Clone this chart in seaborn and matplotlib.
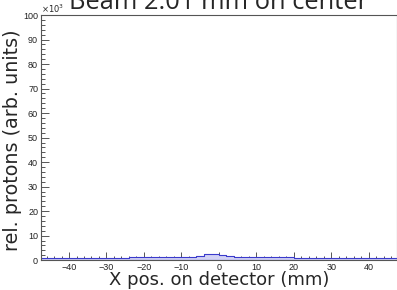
import numpy as np
import matplotlib
matplotlib.use('Agg')
import matplotlib.pyplot as plt
import seaborn as sns
from matplotlib.ticker import MultipleLocator

# 2 mm bins across the detector; counts (arb. units)
bin_edges = list(range(-48, 49, 2))
bin_centers = list(range(-47, 48, 2))
counts = [900, 900, 950, 950, 950, 1000, 1000, 1000, 1000, 1050,
          1050, 1050, 1100, 1100, 1100, 1150, 1150, 1200, 1200, 1300,
          1300, 1700, 2400, 2400, 1900, 1700, 1300, 1250, 1200, 1150,
          1150, 1100, 1100, 1100, 1050, 1050, 1000, 1000, 1000, 1000,
          950, 950, 950, 900, 900, 900, 900, 900]

sns.set_style('white')
plt.rcParams['font.family'] = ['DejaVu Sans']

fig = plt.figure(figsize=(3.97, 2.90), dpi=100)
ax = fig.add_axes([0.103, 0.103, 0.897, 0.845])

sns.histplot(x=bin_centers, weights=counts, bins=bin_edges, element='step',
             fill=True, alpha=1.0, facecolor='#d2d2f5',
             edgecolor='#3a3acc', linewidth=0.8, ax=ax)

ax.set_xlim(-47.5, 47.5)
ax.set_ylim(0, 100000)
ax.xaxis.set_major_locator(MultipleLocator(10))
ax.xaxis.set_minor_locator(MultipleLocator(2))
ax.yaxis.set_minor_locator(MultipleLocator(2000))
ax.set_yticks(range(0, 100001, 10000))
ax.set_yticklabels([str(v) for v in range(0, 101, 10)])
ax.tick_params(which='both', direction='in', labelsize=6.5, pad=2,
               bottom=True, left=True, top=False, right=False,
               labelfontfamily='Liberation Sans', color='#555555',
               labelcolor='#222222', width=0.7)
ax.tick_params(which='major', length=6)
ax.tick_params(which='minor', length=3)
ax.text(0.0, 1.0, r'$\times10^3$', transform=ax.transAxes, fontsize=6,
        family='Liberation Sans', va='bottom', ha='left')

for s in ax.spines.values():
    s.set_color('#555555')
    s.set_linewidth(0.8)

ax.set_xlabel('X pos. on detector (mm)', fontsize=13, labelpad=-1)
ax.set_ylabel('rel. protons (arb. units)', fontsize=13.8)
ax.yaxis.set_label_coords(-0.052, 0.49)
ax.set_title('Beam 2.01 mm on center', fontsize=18.4, pad=1, family='Open Sans')

fig.savefig('out.png', dpi=100)
